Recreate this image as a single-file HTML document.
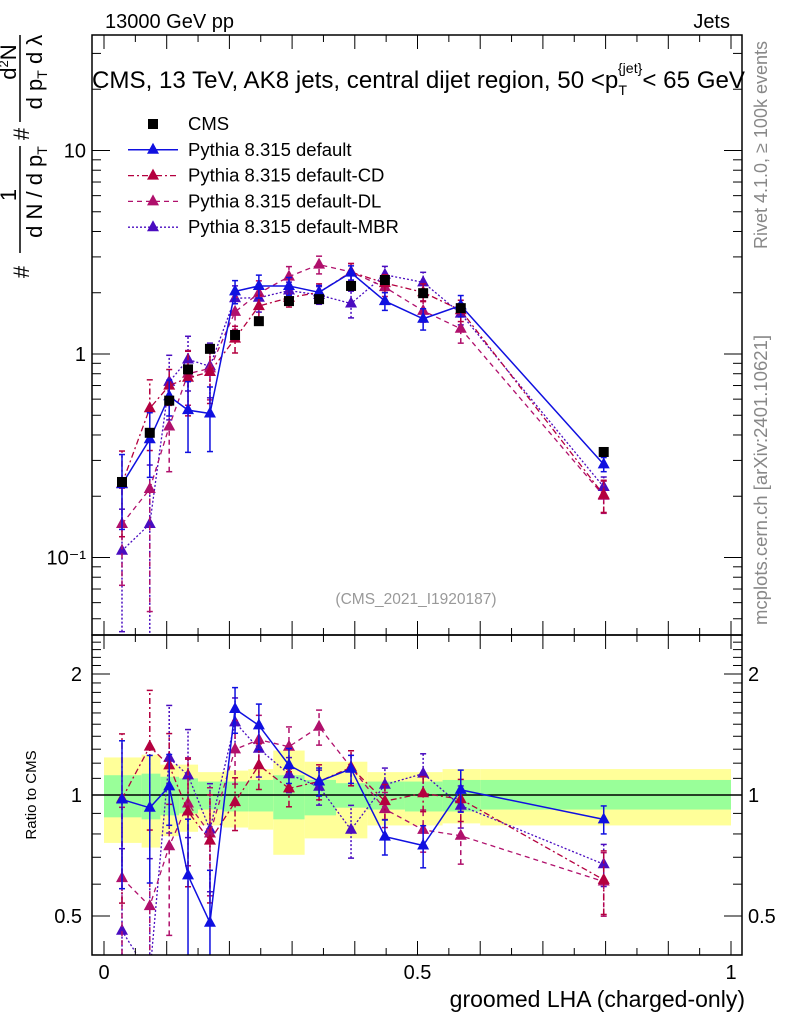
<!DOCTYPE html>
<html><head><meta charset="utf-8"><style>
html,body{margin:0;padding:0;background:#fff;overflow:hidden;width:786px;height:1024px}
svg{display:block;overflow:hidden;font-family:"Liberation Sans",Arial,sans-serif}
</style></head><body>
<svg id="chart" width="786" height="1024" viewBox="0 0 786 1024" xmlns="http://www.w3.org/2000/svg">
<defs>
<clipPath id="clipMain"><rect x="92" y="35" width="650" height="600"/></clipPath>
<clipPath id="clipRatio"><rect x="92" y="635" width="650" height="320"/></clipPath>
</defs>
<g id="bands" clip-path="url(#clipRatio)"></g>
<g id="mainMarks" clip-path="url(#clipMain)"></g>
<g id="ratioMarks" clip-path="url(#clipRatio)"></g>
<g id="axes"></g>

<text x="105" y="28" font-size="20">13000 GeV pp</text>
<text x="730" y="28" font-size="20" text-anchor="end">Jets</text>
<text x="92" y="88" font-size="23.8" textLength="653" lengthAdjust="spacingAndGlyphs">CMS, 13 TeV, AK8 jets, central dijet region, 50 &lt;p<tspan font-size="14" dy="7">T</tspan><tspan font-size="14" dy="-22" dx="-9">{jet}</tspan><tspan dy="15">&lt; 65 GeV</tspan></text>
<text x="416" y="604" font-size="15.5" fill="#999" text-anchor="middle">(CMS_2021_I1920187)</text>
<text transform="translate(767,145) rotate(-90)" font-size="18" fill="#888" text-anchor="middle">Rivet 4.1.0, ≥ 100k events</text>
<text transform="translate(767,480) rotate(-90)" font-size="18.5" fill="#888" text-anchor="middle">mcplots.cern.ch [arXiv:2401.10621]</text>

<g font-size="22">
<line x1="20" y1="253" x2="20" y2="146" stroke="#000" stroke-width="1.5"/>
<line x1="20" y1="122" x2="20" y2="35" stroke="#000" stroke-width="1.5"/>
<text transform="translate(29,272) rotate(-90)" text-anchor="middle">#</text>
<text transform="translate(29,134) rotate(-90)" text-anchor="middle">#</text>
<text transform="translate(16,195) rotate(-90)" text-anchor="middle">1</text>
<text transform="translate(42,192) rotate(-90)" text-anchor="middle">d N / d p<tspan font-size="14" dy="5">T</tspan></text>
<text transform="translate(16,62) rotate(-90)" text-anchor="middle">d<tspan font-size="13" dy="-8">2</tspan><tspan dy="8">N</tspan></text>
<text transform="translate(42,72) rotate(-90)" text-anchor="middle">d p<tspan font-size="14" dy="5">T</tspan><tspan dy="-5"> d λ</tspan></text>
</g>
<text transform="translate(36,795) rotate(-90)" font-size="15" text-anchor="middle">Ratio to CMS</text>
<text x="745" y="1007" font-size="23" text-anchor="end">groomed LHA (charged-only)</text>

<g id="legend"></g>
</svg>
<script>
// ---- data ----
const xCenters = [0.0287,0.073,0.104,0.134,0.169,0.209,0.247,0.295,0.343,0.394,0.448,0.509,0.569,0.797];
const binEdges = [0,0.06,0.09,0.12,0.15,0.19,0.23,0.27,0.32,0.37,0.42,0.48,0.54,0.6,1.0];
const cmsValues = [0.235,0.41,0.59,0.84,1.06,1.24,1.45,1.82,1.86,2.16,2.31,1.99,1.68,0.33];
const defaultValues = [0.229,0.381,0.62,0.53,0.51,2.03,2.16,2.16,2.01,2.51,1.82,1.49,1.73,0.287];
const cdValues = [0.230,0.541,0.699,0.764,0.816,1.19,1.72,1.89,2.01,2.53,2.23,2.01,1.64,0.203];
const dlValues = [0.146,0.217,0.44,0.80,0.85,1.61,1.99,2.40,2.75,2.53,2.13,1.63,1.33,0.201];
const mbrValues = [0.108,0.146,0.73,0.94,0.87,1.88,1.89,2.05,1.95,1.77,2.45,2.25,1.58,0.222];
const defaultErr = [0.4,0.35,0.2,0.38,0.35,0.13,0.13,0.1,0.08,0.08,0.1,0.12,0.12,0.08];
const cdErr = [0.45,0.38,0.2,0.35,0.3,0.15,0.13,0.1,0.1,0.1,0.1,0.1,0.12,0.18];
const dlErr = [0.5,0.75,0.4,0.3,0.3,0.18,0.15,0.12,0.1,0.1,0.1,0.12,0.15,0.18];
const mbrErr = [0.6,0.95,0.35,0.3,0.3,0.15,0.15,0.1,0.1,0.15,0.1,0.12,0.12,0.12];
const greenHi = [1.12,1.13,1.11,1.10,1.08,1.08,1.09,1.12,1.09,1.07,1.08,1.08,1.09,1.09];
const greenLo = [0.88,0.87,0.89,0.90,0.92,0.91,0.91,0.87,0.89,0.93,0.92,0.91,0.91,0.92];
const yellowHi = [1.24,1.26,1.19,1.19,1.14,1.15,1.16,1.29,1.21,1.21,1.14,1.14,1.16,1.16];
const yellowLo = [0.76,0.74,0.79,0.81,0.84,0.83,0.82,0.71,0.78,0.78,0.84,0.84,0.85,0.84];
const mainTickLabels = ["10⁻¹","1","10"];
const mainTickValues = [0.1,1,10];
const ratioTickValues = [0.5,1,2];
const ratioTickLabels = ["0.5","1","2"];
const xTickValues = [0,0.5,1];
const xTickLabels = ["0","0.5","1"];

// ---- scales ----
const X = v => 104 + 627*v;
const YM = v => 354 - 203.5*Math.log10(v);
const YR = r => 795 - 121*Math.log2(r);
const NS = "http://www.w3.org/2000/svg";
function mk(tag, attrs, parent){const e=document.createElementNS(NS,tag);for(const k in attrs)e.setAttribute(k,attrs[k]);parent.appendChild(e);return e;}

const bands = document.getElementById('bands');
for(let i=0;i<greenHi.length;i++){
  const x0=X(binEdges[i]), x1=X(binEdges[i+1]);
  const y = mk('rect',{x:x0,y:YR(yellowHi[i]),width:x1-x0,height:YR(yellowLo[i])-YR(yellowHi[i]),fill:'#ffff99'},bands);
  
  
  const g = mk('rect',{x:x0,y:YR(greenHi[i]),width:x1-x0,height:YR(greenLo[i])-YR(greenHi[i]),fill:'#99ff99'},bands);
  
  
}
const refLine = mk('line',{x1:92,x2:742,y1:YR(1),y2:YR(1),stroke:'#000','stroke-width':1.5},bands);



const series = [
  {name:'default',vals:defaultValues,err:defaultErr,color:'#1010e0',dash:'',w:1.5},
  {name:'default-cd',vals:cdValues,err:cdErr,color:'#b4003f',dash:'6,3,2,3',w:1.3},
  {name:'default-dl',vals:dlValues,err:dlErr,color:'#b0106c',dash:'5,4',w:1.3},
  {name:'default-mbr',vals:mbrValues,err:mbrErr,color:'#4a0cc0',dash:'2,2',w:1.3}
];
function tri(cx,cy,color,parent){
  return mk('polygon',{points:`${cx},${cy-7} ${cx-6},${cy+4} ${cx+6},${cy+4}`,fill:color},parent);
}
function drawSeries(parent, yfun, valsFn, panel){
  series.slice().reverse().forEach(s=>{
    const g = mk('g',{},parent);
    
    
    const vals = valsFn(s);
    const pts = vals.map((v,i)=>X(xCenters[i])+','+yfun(v)).join(' ');
    const pl = mk('polyline',{points:pts,fill:'none',stroke:s.color,'stroke-width':s.w,'stroke-dasharray':s.dash},g);
    
    
    vals.forEach((v,i)=>{
      const cx=X(xCenters[i]);
      const lo=Math.max(v*(1-s.err[i]),1e-4), hi=v*(1+s.err[i]);
      const eb = mk('line',{x1:cx,x2:cx,y1:yfun(lo),y2:yfun(hi),stroke:s.color,'stroke-width':1.5,'stroke-dasharray':s.dash},g);
      
      
      mk('line',{x1:cx-3,x2:cx+3,y1:yfun(lo),y2:yfun(lo),stroke:s.color,'stroke-width':1.5},g);
      mk('line',{x1:cx-3,x2:cx+3,y1:yfun(hi),y2:yfun(hi),stroke:s.color,'stroke-width':1.5},g);
      const t = tri(cx,yfun(v),s.color,g);
      
      
    });
  });
}
const mainMarks = document.getElementById('mainMarks');
drawSeries(mainMarks, YM, s=>s.vals, 'main');
cmsValues.forEach((v,i)=>{
  const r = mk('rect',{x:X(xCenters[i])-5,y:YM(v)-5,width:10,height:10,fill:'#000'},mainMarks);
  
  
});
drawSeries(document.getElementById('ratioMarks'), YR, s=>s.vals.map((v,i)=>v/cmsValues[i]), 'ratio');

// ---- axes ----
const ax = document.getElementById('axes');
mk('rect',{x:92,y:35,width:650,height:600,fill:'none',stroke:'#000','stroke-width':1.5},ax);
mk('rect',{x:92,y:635,width:650,height:320,fill:'none',stroke:'#000','stroke-width':1.5},ax);
for(let k=0;k<=20;k++){
  const v=k*0.05, x=X(v), len=(k%2===0)?14:7;
  [[35,1],[635,-1],[635,1],[955,-1]].forEach(([y0,d])=>mk('line',{x1:x,x2:x,y1:y0,y2:y0+d*len,stroke:'#000','stroke-width':1},ax));
}
xTickValues.forEach((v,i)=>{const t=mk('text',{x:X(v),y:979,'font-size':20,'text-anchor':'middle'},ax);t.textContent=xTickLabels[i];});
for(let e=-2;e<=1;e++){for(let m=1;m<=9;m++){
  const v=m*Math.pow(10,e), y=YM(v); if(y<35||y>635) continue;
  const len = m===1?18:9;
  mk('line',{x1:92,x2:92+len,y1:y,y2:y,stroke:'#000','stroke-width':1},ax);
  mk('line',{x1:742,x2:742-len,y1:y,y2:y,stroke:'#000','stroke-width':1},ax);
}}
mainTickValues.forEach((v,i)=>{const t=mk('text',{x:86,y:YM(v)+7,'font-size':20,'text-anchor':'end'},ax);t.textContent=mainTickLabels[i];});
for(let k=4;k<=25;k++){
  const r=k/10, y=YR(r); if(y<635||y>955) continue;
  const major = (k===5||k===10||k===20);
  const len = major?18:9;
  mk('line',{x1:92,x2:92+len,y1:y,y2:y,stroke:'#000','stroke-width':1},ax);
  mk('line',{x1:742,x2:742-len,y1:y,y2:y,stroke:'#000','stroke-width':1},ax);
}
ratioTickValues.forEach((v,i)=>{
  const t=mk('text',{x:82,y:YR(v)+7,'font-size':20,'text-anchor':'end'},ax);t.textContent=ratioTickLabels[i];
  
  
  const t2=mk('text',{x:748,y:YR(v)+7,'font-size':20},ax);t2.textContent=ratioTickLabels[i];
  
  
});

// ---- legend ----
const lg = document.getElementById('legend');
const legendLabels = ['CMS','Pythia 8.315 default','Pythia 8.315 default-CD','Pythia 8.315 default-DL','Pythia 8.315 default-MBR'];
legendLabels.forEach((lab,i)=>{
  const y = 124 + i*25.8;
  const g = mk('g',{},lg);
  
  
  if(i===0){ mk('rect',{x:148,y:y-5,width:10,height:10,fill:'#000'},g); }
  else { const s=series[i-1];
    mk('line',{x1:128,x2:178,y1:y,y2:y,stroke:s.color,'stroke-width':s.w,'stroke-dasharray':s.dash},g);
    tri(153,y,s.color,g); }
  const t=mk('text',{x:188,y:y+6,'font-size':18.5},g); t.textContent=lab;
});
</script>
</body></html>
